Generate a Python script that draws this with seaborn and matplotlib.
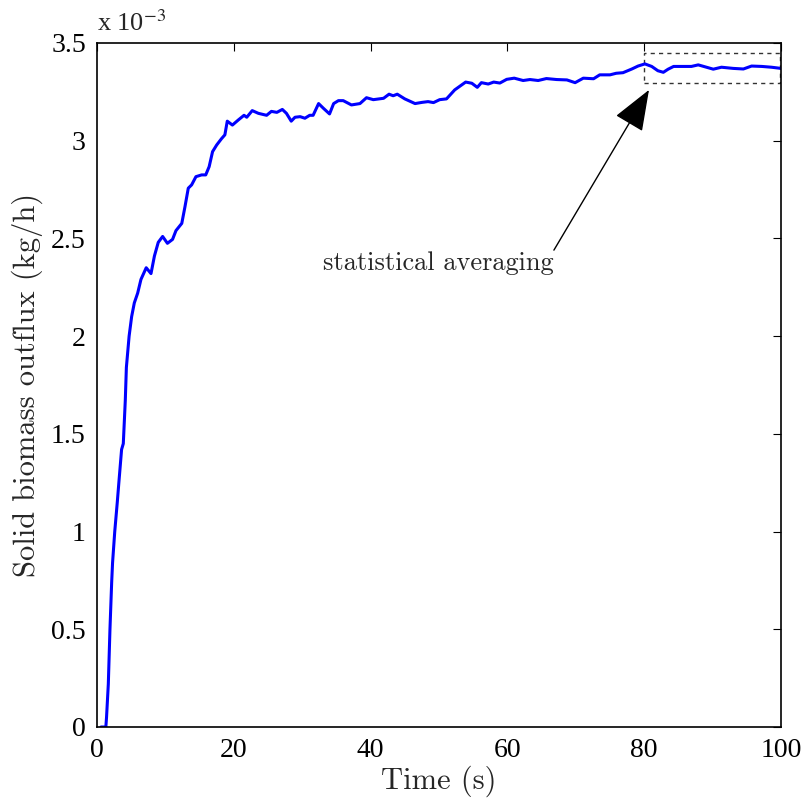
import numpy as np
import pandas as pd
import seaborn as sns
import matplotlib.pyplot as plt
from matplotlib.patches import Rectangle
from matplotlib.ticker import FuncFormatter

# time (s) and outflux (units of 1e-3 kg/h)
time_s = [0.6, 1.3, 1.4, 1.66, 1.9, 2.15, 2.28, 2.6, 2.97, 3.2, 3.6, 3.85, 4.14, 4.3, 4.7,
          5.07, 5.46, 5.95, 6.43, 7.2, 7.9, 8.4, 8.96, 9.6, 10.3, 11.05, 11.55, 12.4, 12.87,
          13.35, 13.84, 14.47, 15.3, 15.9, 16.4, 16.9, 17.5, 18.2, 18.7, 19.05, 19.8, 20.66,
          21.5, 21.9, 22.7, 23.6, 24.8, 25.5, 26.3, 27.1, 27.7, 28.4, 28.95, 29.7, 30.4, 31.1,
          31.6, 32.4, 33.1, 34.0, 34.6, 35.3, 36.0, 37.2, 38.45, 39.4, 40.4, 41.9, 42.7, 43.3,
          43.9, 45.0, 46.5, 47.5, 48.4, 49.2, 50.1, 51.1, 52.3, 53.3, 53.9, 54.8, 55.6, 56.2,
          57.2, 58.0, 58.9, 59.9, 61.0, 62.3, 63.3, 64.5, 65.7, 67.2, 68.7, 69.9, 71.1, 72.6,
          73.5, 75.0, 75.9, 76.9, 78.2, 79.1, 80.1, 81.1, 82.0, 82.8, 83.5, 84.3, 85.7, 86.9,
          87.9, 89.1, 90.1, 91.3, 93.0, 94.5, 95.7, 97.2, 98.6, 100.0]
outflux = [0.0, 0.0, 0.05, 0.22, 0.5, 0.74, 0.84, 1.0, 1.15, 1.25, 1.42, 1.45, 1.67, 1.84, 2.0,
           2.1, 2.17, 2.22, 2.29, 2.35, 2.32, 2.41, 2.48, 2.51, 2.475, 2.495, 2.54, 2.577, 2.663,
           2.757, 2.774, 2.816, 2.825, 2.825, 2.867, 2.944, 2.978, 3.01, 3.03, 3.10, 3.08, 3.106,
           3.13, 3.12, 3.154, 3.14, 3.13, 3.15, 3.145, 3.16, 3.14, 3.10, 3.12, 3.123, 3.115, 3.13,
           3.13, 3.19, 3.166, 3.137, 3.19, 3.205, 3.205, 3.183, 3.19, 3.22, 3.21, 3.217, 3.238, 3.23,
           3.238, 3.214, 3.19, 3.196, 3.20, 3.195, 3.21, 3.214, 3.26, 3.285, 3.30, 3.294, 3.273, 3.297,
           3.29, 3.30, 3.295, 3.314, 3.32, 3.308, 3.313, 3.308, 3.318, 3.313, 3.311, 3.297, 3.32, 3.317,
           3.337, 3.337, 3.345, 3.348, 3.367, 3.382, 3.393, 3.38, 3.358, 3.35, 3.366, 3.38, 3.38, 3.38,
           3.388, 3.376, 3.366, 3.376, 3.37, 3.367, 3.382, 3.38, 3.376, 3.37]

x_ticks = [0, 20, 40, 60, 80, 100]
y_ticks = [0, 0.5, 1, 1.5, 2, 2.5, 3, 3.5]

# averaging window box
box_t = [80, 100]
box_v = [3.295, 3.45]

df = pd.DataFrame({'t': time_s, 'v': outflux})

sns.set_style('white')
plt.rcParams['font.family'] = ['Liberation Serif', 'DejaVu Serif']
plt.rcParams['mathtext.fontset'] = 'stix'

fig = plt.figure(figsize=(8.04, 8.05), dpi=100)
ax = fig.add_axes([0.1206, 0.0969, 0.8508, 0.8497])

sns.lineplot(data=df, x='t', y='v', ax=ax, color='#0000ff', linewidth=2.2, sort=False)

ax.set_xlim(0, 100)
ax.set_ylim(0, 3.5)
ax.set_xticks(x_ticks)
ax.set_yticks(y_ticks)
ax.yaxis.set_major_formatter(FuncFormatter(lambda v, p: '%g' % v))
ax.tick_params(direction='in', length=6, width=0.8, top=True, right=True,
               labelsize=20, pad=8, colors='k')
for s in ax.spines.values():
    s.set_linewidth(1.2)
    s.set_color('k')

cm = ['cmr10', 'DejaVu Serif']
ax.set_xlabel('Time (s)', fontsize=22, family=cm, labelpad=2)
ax.set_ylabel('Solid biomass outflux (kg/h)', fontsize=22, family=cm, labelpad=6)

ax.text(0, 1.01, 'x 10$^{-3}$', transform=ax.transAxes, fontsize=19,
        ha='left', va='bottom')

ax.add_patch(Rectangle((box_t[0], box_v[0]), box_t[1] - box_t[0] - 0.2, box_v[1] - box_v[0],
                       fill=False, ls=(0, (3, 3)), lw=1.0, ec='#333333'))

ax.text(49.85, 2.375, 'statistical averaging', fontsize=19, family=cm,
        ha='center', va='center')
ax.annotate('', xy=(80.7, 3.26), xytext=(66.8, 2.44),
            arrowprops=dict(arrowstyle='-|>,head_length=1.3,head_width=0.5',
                            mutation_scale=20, color='k', lw=1.0, shrinkA=0, shrinkB=0))

fig.savefig('out.png', dpi=100)
